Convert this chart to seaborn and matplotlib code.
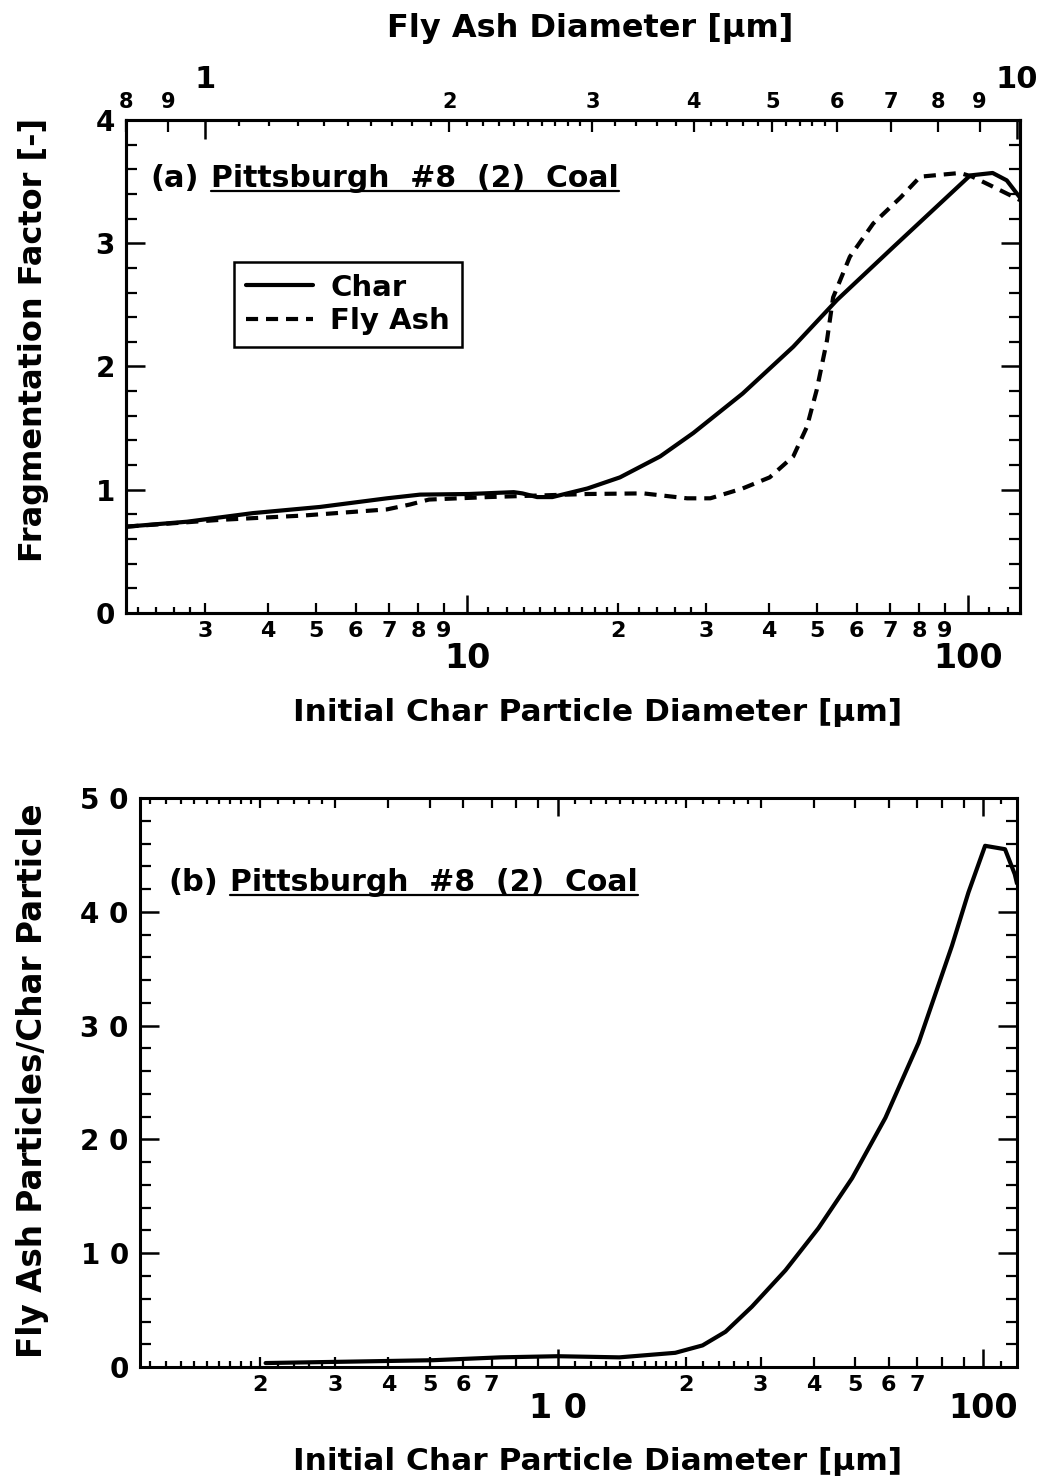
import matplotlib
matplotlib.use("Agg")
import numpy as np
import pandas as pd
import matplotlib.pyplot as plt
import seaborn as sns
from matplotlib.lines import Line2D
from matplotlib.transforms import IdentityTransform
from matplotlib.ticker import FixedLocator, FixedFormatter

# ---- panel (a): fragmentation factor vs initial char diameter ----
CHAR_D = [2.09, 2.76, 3.74, 5.09, 6.92, 8.06, 10.1, 12.4, 12.9, 13.8, 14.8, 17.4,
          20.2, 24.3, 28.3, 35.5, 44.8, 54.8, 71.0, 101, 112, 119.5, 127]
CHAR_FF = [0.70, 0.74, 0.81, 0.86, 0.93, 0.96, 0.965, 0.98, 0.97, 0.94, 0.94, 1.01,
           1.10, 1.27, 1.46, 1.78, 2.16, 2.54, 2.97, 3.55, 3.57, 3.51, 3.37]
ASH_D = [2.09, 3.21, 4.70, 6.92, 7.7, 8.4, 11.0, 17.4, 22.5, 27.5, 30.6, 35.5, 40.2,
         44.8, 47.7, 49.9, 52.3, 53.8, 58.1, 64.7, 73.3, 80.3, 96.4, 102, 112, 127]
ASH_FF = [0.70, 0.755, 0.79, 0.84, 0.88, 0.92, 0.94, 0.965, 0.97, 0.93, 0.93, 1.01, 1.10,
          1.27, 1.51, 1.81, 2.21, 2.56, 2.89, 3.16, 3.37, 3.54, 3.57, 3.54, 3.46, 3.35]

# ---- panel (b): fly ash particles per char particle ----
B_D = [2.06, 2.97, 5.1, 7.34, 10, 13.96, 18.9, 21.9, 24.8, 28.6, 34.3, 41.0, 49.2,
       58.9, 70.5, 84.4, 92.3, 101, 112.5, 118.6, 120]
B_N = [0.35, 0.45, 0.6, 0.85, 0.95, 0.85, 1.25, 1.9, 3.1, 5.3, 8.5, 12.2, 16.6,
       21.9, 28.5, 37.0, 41.7, 45.8, 45.5, 43.3, 42.5]

# tick sets
A_BIG = [10, 100]
A_BIG_LAB = ["10", "100"]
A_MID = [3, 4, 5, 6, 7, 8, 9, 20, 30, 40, 50, 60, 70, 80, 90]
A_MID_LAB = ["3", "4", "5", "6", "7", "8", "9", "2", "3", "4", "5", "6", "7", "8", "9"]
A_SHORT = [2.2, 2.4, 2.6, 2.8, 11, 12, 13, 14, 15, 16, 17, 18, 19, 22, 24, 26, 28, 110, 120]

TOP_BIG = [1, 10]
TOP_BIG_LAB = ["1", "10"]
TOP_MID = [0.8, 0.9, 2, 3, 4, 5, 6, 7, 8, 9]
TOP_MID_LAB = ["8", "9", "2", "3", "4", "5", "6", "7", "8", "9"]
TOP_SHORT = [1.1, 1.2, 1.3, 1.4, 1.5, 1.6, 1.7, 1.8, 1.9, 2.1, 2.2, 2.3, 2.4, 2.5, 2.6,
             2.7, 2.8, 2.9, 3.2, 3.4, 3.6, 3.8, 4.2, 4.4, 4.6, 4.8, 5.2, 5.4, 5.6, 5.8]

B_BIG = [10, 100]
B_BIG_LAB = ["1 0", "100"]
B_MID = [2, 3, 4, 5, 6, 7, 8, 9, 20, 30, 40, 50, 60, 70, 80, 90]
B_MID_LAB = ["2", "3", "4", "5", "6", "7", "", "", "2", "3", "4", "5", "6", "7", "", ""]
B_SHORT = [1.1, 1.2, 1.3, 1.4, 1.5, 1.6, 1.7, 1.8, 1.9, 2.2, 2.4, 2.6, 2.8,
           11, 12, 13, 14, 15, 16, 17, 18, 19, 22, 24, 26, 28, 110]

A_YT = [0, 1, 2, 3, 4]
B_YT = [0, 10, 20, 30, 40, 50]
B_YT_LAB = ["0", "1 0", "2 0", "3 0", "4 0", "5 0"]

COAL = "Pittsburgh  #8  (2)  Coal"

sns.set_theme(style="ticks")
plt.rcParams["font.family"] = ["DejaVu Sans"]
plt.rcParams["font.weight"] = "bold"
plt.rcParams["axes.labelweight"] = "bold"
plt.rcParams["axes.linewidth"] = 2.2
plt.rcParams["axes.edgecolor"] = "black"
plt.rcParams["xtick.color"] = "black"
plt.rcParams["ytick.color"] = "black"
plt.rcParams["text.color"] = "black"
plt.rcParams["axes.labelcolor"] = "black"

LW = 3.0


def short_ticks(ax, where, ticks, length):
    sec = ax.secondary_xaxis(where)
    sec.set_ticks(ticks)
    sec.tick_params(which="major", direction="in", length=length, width=1.6,
                    labelbottom=False, labeltop=False)
    sec.tick_params(which="minor", length=0, labelbottom=False, labeltop=False)
    for s in sec.spines.values():
        s.set_visible(False)
    return sec


def log_x(ax, big, big_lab, mid, mid_lab, big_size, mid_size, big_pad, mid_pad):
    ax.xaxis.set_major_locator(FixedLocator(big))
    ax.xaxis.set_major_formatter(FixedFormatter(big_lab))
    ax.xaxis.set_minor_locator(FixedLocator(mid))
    ax.xaxis.set_minor_formatter(FixedFormatter(mid_lab))
    ax.tick_params(axis="x", which="major", direction="in", length=13, width=1.8,
                   labelsize=big_size, pad=big_pad)
    ax.tick_params(axis="x", which="minor", direction="in", length=7.5, width=1.6,
                   labelsize=mid_size, pad=mid_pad)


def y_axis(ax, major, labels, minor, size):
    ax.set_yticks(major)
    ax.set_yticklabels(labels)
    ax.yaxis.set_minor_locator(FixedLocator(minor))
    ax.tick_params(axis="y", which="major", direction="in", length=14, width=1.8,
                   labelsize=size, pad=8, left=True, right=True)
    ax.tick_params(axis="y", which="minor", direction="in", length=8, width=1.6,
                   left=True, right=True)


fig = plt.figure(figsize=(10.47, 14.83), dpi=100)
ax_a = fig.add_axes([0.1203, 0.5867, 0.8539, 0.3324])
ax_b = fig.add_axes([0.1337, 0.0782, 0.8376, 0.3837])

# ---------------- panel (a) ----------------
ax_a.set_xscale("log")
df_char = pd.DataFrame({"d": CHAR_D, "ff": CHAR_FF})
df_ash = pd.DataFrame({"d": ASH_D, "ff": ASH_FF})
sns.lineplot(data=df_char, x="d", y="ff", ax=ax_a, color="black", linewidth=LW)
sns.lineplot(data=df_ash, x="d", y="ff", ax=ax_a, color="black", linewidth=LW,
             linestyle=(0, (2.9, 1.9)))
ax_a.set_xlim(2.086, 127.0)
ax_a.set_ylim(0, 4)
log_x(ax_a, A_BIG, A_BIG_LAB, A_MID, A_MID_LAB, 24, 16, 21, 6)
ax_a.xaxis.tick_bottom()
short_ticks(ax_a, "bottom", A_SHORT, 4)
y_axis(ax_a, A_YT, [str(v) for v in A_YT], [v / 5 for v in range(21) if v % 5], 20)
ax_a.set_xlabel("Initial Char Particle Diameter [µm]", fontsize=22.5)
ax_a.xaxis.set_label_coords(0.528, -0.172)
ax_a.set_ylabel("Fragmentation Factor [-]", fontsize=23)
ax_a.yaxis.set_label_coords(-0.086, 0.554)

# fly ash diameter on the top axis
ax_t = ax_a.twiny()
ax_t.set_xscale("log")
ax_t.set_xlim(0.799, 10.09)
ax_t.xaxis.set_major_locator(FixedLocator(TOP_BIG))
ax_t.xaxis.set_major_formatter(FixedFormatter(TOP_BIG_LAB))
ax_t.xaxis.set_minor_locator(FixedLocator(TOP_MID))
ax_t.xaxis.set_minor_formatter(FixedFormatter(TOP_MID_LAB))
ax_t.tick_params(axis="x", which="major", direction="in", length=14, width=1.8,
                 labelsize=22, pad=19)
ax_t.tick_params(axis="x", which="minor", direction="in", length=8.5, width=1.6,
                 labelsize=15, pad=6)
short_ticks(ax_t, "top", TOP_SHORT, 4.5)
ax_t.set_xlabel("Fly Ash Diameter [µm]", fontsize=23)
ax_t.xaxis.set_label_coords(0.519, 1.168)

leg = ax_a.legend(handles=[Line2D([], [], color="black", lw=LW),
                           Line2D([], [], color="black", lw=LW, linestyle=(0, (2.9, 1.9)))],
                  labels=["Char", "Fly Ash"], loc="upper left", bbox_to_anchor=(0.121, 0.712),
                  borderaxespad=0, fancybox=False, framealpha=1, edgecolor="black",
                  prop={"size": 21, "weight": "bold"}, handlelength=2.3,
                  handletextpad=0.6, labelspacing=0.2, borderpad=0.4)
leg.get_frame().set_linewidth(1.8)

t_a = ax_a.text(0.027, 0.882, "(a)", transform=ax_a.transAxes, fontsize=22,
                va="center", ha="left")
n_a = ax_a.annotate(COAL, xy=(1, 0), xycoords=t_a,
                    xytext=(9, 0), textcoords="offset points", fontsize=21.5,
                    va="bottom", ha="left")

# ---------------- panel (b) ----------------
ax_b.set_xscale("log")
df_b = pd.DataFrame({"d": B_D, "n": B_N})
sns.lineplot(data=df_b, x="d", y="n", ax=ax_b, color="black", linewidth=LW)
ax_b.set_xlim(1.044, 120.0)
ax_b.set_ylim(0, 50)
log_x(ax_b, B_BIG, B_BIG_LAB, B_MID, B_MID_LAB, 24, 16, 18, 6)
ax_b.tick_params(axis="x", which="both", top=True)
short_ticks(ax_b, "bottom", B_SHORT, 4)
short_ticks(ax_b, "top", B_SHORT, 4)
y_axis(ax_b, B_YT, B_YT_LAB, [v for v in range(0, 51, 2) if v % 10], 20)
ax_b.set_xlabel("Initial Char Particle Diameter [µm]", fontsize=22.5)
ax_b.xaxis.set_label_coords(0.522, -0.141)
ax_b.set_ylabel("Fly Ash Particles/Char Particle", fontsize=23.5)
ax_b.yaxis.set_label_coords(-0.104, 0.504)

t_b = ax_b.text(0.032, 0.852, "(b)", transform=ax_b.transAxes, fontsize=22,
                va="center", ha="left")
n_b = ax_b.annotate(COAL, xy=(1, 0), xycoords=t_b,
                    xytext=(9, 0), textcoords="offset points", fontsize=21.5,
                    va="bottom", ha="left")

# underline the coal names
fig.canvas.draw()
for lab in (n_a, n_b):
    bb = lab.get_window_extent()
    fig.add_artist(Line2D([bb.x0, bb.x1], [bb.y0 + 2, bb.y0 + 2], color="black",
                          lw=1.6, transform=IdentityTransform()))

fig.savefig("out.png", dpi=100)
